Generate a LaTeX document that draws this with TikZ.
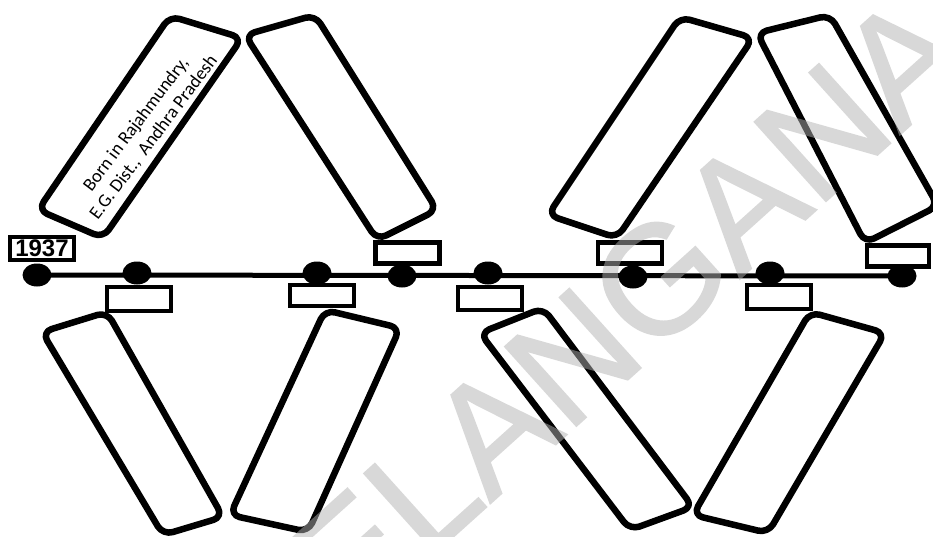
\documentclass[tikz,border=0pt]{standalone}
\usepackage{fontspec}
\setmainfont{Carlito}
\newfontfamily\arialfont{Liberation Sans}
\newfontfamily\markfont[FakeBold=1.2]{Liberation Sans}
\usetikzlibrary{shapes.geometric}

\tikzset{
  tile/.style={line width=6.5pt, rounded corners=10pt, line join=round},
  tag/.style={draw, line width=4.5pt, fill=white, inner sep=0pt,
              minimum width=64pt, minimum height=21pt},
  dot/.style={ellipse, fill=black, inner sep=0pt,
              minimum width=29pt, minimum height=23pt}
}

\begin{document}
\begin{tikzpicture}[x=1pt, y=-1pt]
\useasboundingbox[fill=white] (0,0) rectangle (933,537);

% Upper tiles
\draw[tile] (38,210) -- (170,16) -- (242,38) -- (103,238) -- cycle;
\draw[tile] (245,35) -- (315,15) -- (437,210) -- (377,240) -- cycle;
\draw[tile] (548,215) -- (680,17) -- (753,38) -- (617,238) -- cycle;
\draw[tile] (757,33) -- (830,15) -- (938,206) -- (865,243) -- cycle;

% Lower tiles
\draw[tile] (42,332) -- (107,312) -- (223,517) -- (163,535) -- cycle;
\draw[tile] (325,310) -- (400,328) -- (308,532) -- (230,515) -- cycle;
\draw[tile] (480,333) -- (543,308) -- (693,507) -- (630,530) -- cycle;
\draw[tile] (810,312) -- (885,333) -- (768,533) -- (693,515) -- cycle;

% Text in the first tile
\node[rotate=53, align=center, font=\fontsize{18.5}{22}\selectfont] (born)
  at (145,131) {Born in Rajahmundry,\\E.G. Dist.,\ \ Andhra Pradesh};

% Year tags
\node[tag, minimum width=64pt, minimum height=23pt, font=\arialfont\bfseries\fontsize{24}{24}\selectfont]
  (yr) at (42,248.5) {\raisebox{-3pt}{1937}};
\node[tag, minimum height=24pt] (b1) at (139,299) {};
\node[tag] (b2) at (322,295.5) {};
\node[tag] (t1) at (407.5,253) {};
\node[tag, minimum height=23pt] (b3) at (490,298.5) {};
\node[tag] (t2) at (630,253) {};
\node[tag, minimum height=24pt] (b4) at (779,297) {};
\node[tag, minimum width=62pt] (t3) at (898,256) {};

% Time line
\foreach \n/\x/\y in {1/37/275, 2/137/273, 3/317/273, 4/402/276, 5/488/273, 6/633/277, 7/770/273, 8/902/276}
  \node[dot] (d\n) at (\x,\y) {};
\draw[line width=5pt] (d1.center) -- (d8.center);

% Watermark
\begin{scope}[transparency group, opacity=0.5]
\node[rotate=42, text=black!30, font=\markfont\fontsize{155}{155}\selectfont]
  (mark) at (592,340) {TELANGANA};
\end{scope}

\end{tikzpicture}
\end{document}
